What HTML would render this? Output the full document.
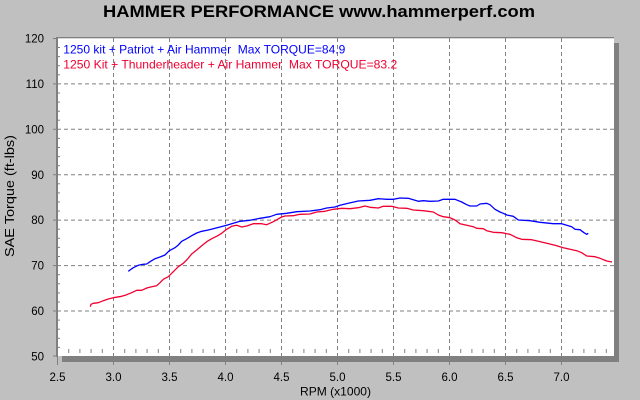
<!DOCTYPE html>
<html><head><meta charset="utf-8"><style>
html,body{margin:0;padding:0;background:#c0c0c0;}
svg{display:block;}
text{font-family:"Liberation Sans",Arial,sans-serif;white-space:pre;}
</style></head><body>
<svg width="640" height="400" viewBox="0 0 640 400" xmlns="http://www.w3.org/2000/svg">
<rect x="0" y="0" width="640" height="400" fill="#c0c0c0"/>
<text x="103" y="17" font-size="17" font-weight="bold" textLength="432" lengthAdjust="spacingAndGlyphs" fill="#000">HAMMER PERFORMANCE www.hammerperf.com</text>
<!-- shadow -->
<rect x="62" y="43" width="557" height="319" fill="#808080"/>
<!-- plot -->
<rect x="57" y="38" width="557" height="318" fill="#fff"/>
<!-- grid -->
<g stroke="#808080" stroke-width="1" stroke-dasharray="4,3" fill="none">
<line x1="57" y1="83.9" x2="614" y2="83.9"/>
<line x1="57" y1="129.3" x2="614" y2="129.3"/>
<line x1="57" y1="174.7" x2="614" y2="174.7"/>
<line x1="57" y1="220.1" x2="614" y2="220.1"/>
<line x1="57" y1="265.6" x2="614" y2="265.6"/>
<line x1="57" y1="311" x2="614" y2="311"/>
<line x1="113.5" y1="38" x2="113.5" y2="356"/>
<line x1="169.5" y1="38" x2="169.5" y2="356"/>
<line x1="225.5" y1="38" x2="225.5" y2="356"/>
<line x1="281.5" y1="38" x2="281.5" y2="356"/>
<line x1="337.5" y1="38" x2="337.5" y2="356"/>
<line x1="393.5" y1="38" x2="393.5" y2="356"/>
<line x1="449.5" y1="38" x2="449.5" y2="356"/>
<line x1="505.5" y1="38" x2="505.5" y2="356"/>
<line x1="561.5" y1="38" x2="561.5" y2="356"/>
</g>
<!-- frame -->
<rect x="56" y="37" width="2" height="320" fill="#808080"/>
<rect x="56" y="37" width="558" height="1.3" fill="#808080"/>
<!-- y ticks -->
<g stroke="#808080" stroke-width="1">
<line x1="53" y1="38.5" x2="57" y2="38.5"/><line x1="53" y1="83.9" x2="57" y2="83.9"/><line x1="53" y1="129.3" x2="57" y2="129.3"/><line x1="53" y1="174.7" x2="57" y2="174.7"/><line x1="53" y1="220.1" x2="57" y2="220.1"/><line x1="53" y1="265.6" x2="57" y2="265.6"/><line x1="53" y1="311" x2="57" y2="311"/><line x1="53" y1="356" x2="57" y2="356"/>
<line x1="57" y1="47.5" x2="60" y2="47.5"/><line x1="57" y1="56.6" x2="60" y2="56.6"/><line x1="57" y1="65.7" x2="60" y2="65.7"/><line x1="57" y1="74.8" x2="60" y2="74.8"/>
<line x1="57" y1="93" x2="60" y2="93"/><line x1="57" y1="102.1" x2="60" y2="102.1"/><line x1="57" y1="111.2" x2="60" y2="111.2"/><line x1="57" y1="120.2" x2="60" y2="120.2"/>
<line x1="57" y1="138.4" x2="60" y2="138.4"/><line x1="57" y1="147.5" x2="60" y2="147.5"/><line x1="57" y1="156.6" x2="60" y2="156.6"/><line x1="57" y1="165.7" x2="60" y2="165.7"/>
<line x1="57" y1="183.8" x2="60" y2="183.8"/><line x1="57" y1="192.9" x2="60" y2="192.9"/><line x1="57" y1="202" x2="60" y2="202"/><line x1="57" y1="211.1" x2="60" y2="211.1"/>
<line x1="57" y1="229.2" x2="60" y2="229.2"/><line x1="57" y1="238.3" x2="60" y2="238.3"/><line x1="57" y1="247.4" x2="60" y2="247.4"/><line x1="57" y1="256.5" x2="60" y2="256.5"/>
<line x1="57" y1="274.7" x2="60" y2="274.7"/><line x1="57" y1="283.8" x2="60" y2="283.8"/><line x1="57" y1="292.9" x2="60" y2="292.9"/><line x1="57" y1="302" x2="60" y2="302"/>
<line x1="57" y1="320.1" x2="60" y2="320.1"/><line x1="57" y1="329.2" x2="60" y2="329.2"/><line x1="57" y1="338.3" x2="60" y2="338.3"/><line x1="57" y1="347.4" x2="60" y2="347.4"/>
</g>
<!-- x ticks -->
<g stroke="#808080" stroke-width="1">
<line x1="57.5" y1="356" x2="57.5" y2="365"/><line x1="113.5" y1="356" x2="113.5" y2="365"/><line x1="169.5" y1="356" x2="169.5" y2="365"/><line x1="225.5" y1="356" x2="225.5" y2="365"/><line x1="281.5" y1="356" x2="281.5" y2="365"/><line x1="337.5" y1="356" x2="337.5" y2="365"/><line x1="393.5" y1="356" x2="393.5" y2="365"/><line x1="449.5" y1="356" x2="449.5" y2="365"/><line x1="505.5" y1="356" x2="505.5" y2="365"/><line x1="561.5" y1="356" x2="561.5" y2="365"/>
</g>
<g stroke="#808080" stroke-width="1" id="mt">
<line x1="68.7" y1="349" x2="68.7" y2="353"/><line x1="79.9" y1="349" x2="79.9" y2="353"/><line x1="91.1" y1="349" x2="91.1" y2="353"/><line x1="102.3" y1="349" x2="102.3" y2="353"/>
<line x1="124.7" y1="349" x2="124.7" y2="353"/><line x1="135.9" y1="349" x2="135.9" y2="353"/><line x1="147.1" y1="349" x2="147.1" y2="353"/><line x1="158.3" y1="349" x2="158.3" y2="353"/>
<line x1="180.7" y1="349" x2="180.7" y2="353"/><line x1="191.9" y1="349" x2="191.9" y2="353"/><line x1="203.1" y1="349" x2="203.1" y2="353"/><line x1="214.3" y1="349" x2="214.3" y2="353"/>
<line x1="236.7" y1="349" x2="236.7" y2="353"/><line x1="247.9" y1="349" x2="247.9" y2="353"/><line x1="259.1" y1="349" x2="259.1" y2="353"/><line x1="270.3" y1="349" x2="270.3" y2="353"/>
<line x1="292.7" y1="349" x2="292.7" y2="353"/><line x1="303.9" y1="349" x2="303.9" y2="353"/><line x1="315.1" y1="349" x2="315.1" y2="353"/><line x1="326.3" y1="349" x2="326.3" y2="353"/>
<line x1="348.7" y1="349" x2="348.7" y2="353"/><line x1="359.9" y1="349" x2="359.9" y2="353"/><line x1="371.1" y1="349" x2="371.1" y2="353"/><line x1="382.3" y1="349" x2="382.3" y2="353"/>
<line x1="404.7" y1="349" x2="404.7" y2="353"/><line x1="415.9" y1="349" x2="415.9" y2="353"/><line x1="427.1" y1="349" x2="427.1" y2="353"/><line x1="438.3" y1="349" x2="438.3" y2="353"/>
<line x1="460.7" y1="349" x2="460.7" y2="353"/><line x1="471.9" y1="349" x2="471.9" y2="353"/><line x1="483.1" y1="349" x2="483.1" y2="353"/><line x1="494.3" y1="349" x2="494.3" y2="353"/>
<line x1="516.7" y1="349" x2="516.7" y2="353"/><line x1="527.9" y1="349" x2="527.9" y2="353"/><line x1="539.1" y1="349" x2="539.1" y2="353"/><line x1="550.3" y1="349" x2="550.3" y2="353"/>
<line x1="572.7" y1="349" x2="572.7" y2="353"/><line x1="583.9" y1="349" x2="583.9" y2="353"/><line x1="595.1" y1="349" x2="595.1" y2="353"/><line x1="606.3" y1="349" x2="606.3" y2="353"/>
</g>
<!-- y labels -->
<g font-size="11.5" fill="#000" text-anchor="end">
<text x="44" y="42.5">120</text>
<text x="44" y="88">110</text>
<text x="44" y="133.4">100</text>
<text x="44" y="178.8">90</text>
<text x="44" y="224.2">80</text>
<text x="44" y="269.7">70</text>
<text x="44" y="315.1">60</text>
<text x="44" y="360.3">50</text>
</g>
<!-- x labels -->
<g font-size="11.5" fill="#000" text-anchor="middle">
<text x="57.5" y="381">2.5</text>
<text x="113.5" y="381">3.0</text>
<text x="169.5" y="381">3.5</text>
<text x="225.5" y="381">4.0</text>
<text x="281.5" y="381">4.5</text>
<text x="337.5" y="381">5.0</text>
<text x="393.5" y="381">5.5</text>
<text x="449.5" y="381">6.0</text>
<text x="505.5" y="381">6.5</text>
<text x="561.5" y="381">7.0</text>
</g>
<text x="300" y="395.5" font-size="12" fill="#000" textLength="71" lengthAdjust="spacingAndGlyphs">RPM (x1000)</text>
<text transform="translate(14,196) rotate(-90)" x="0" y="0" font-size="12.5" fill="#000" text-anchor="middle" textLength="122" lengthAdjust="spacingAndGlyphs">SAE Torque (ft-lbs)</text>
<!-- legend -->
<text x="63.3" y="53.3" font-size="12" fill="#0000ff" textLength="282" lengthAdjust="spacingAndGlyphs">1250 kit + Patriot + Air Hammer  Max TORQUE=84.9</text>
<text x="63.3" y="68.3" font-size="12" fill="#f00030" textLength="334" lengthAdjust="spacingAndGlyphs">1250 Kit + Thunderheader + Air Hammer  Max TORQUE=83.2</text>
<!-- curves -->
<polyline fill="none" stroke="#0000ff" stroke-width="1.3" stroke-linejoin="round" points="128.3,271.3 130,270 133.3,267.7 138.3,265.3 143.3,264.3 146.7,264 150,261.7 155,258.7 160,257 165,255 169.3,250.7 175,247.7 178.3,245 181.7,241.3 186.7,238.7 191.7,235.7 196.7,233 201.7,231.3 208.3,230 213.3,228.7 220,227 226.7,225.3 233.3,223.3 240,221.3 250,220.3 260,218.3 270,216.7 276.7,214.3 286.7,213.3 296.7,211.7 310,211 320,209.7 326.7,208 335,207 340,205.3 348.3,203.3 358.3,201 370,200.3 378.3,198.7 386.7,199.3 393.3,199.3 400,198 408.3,198.3 413.3,199.7 418.3,201.3 423.3,200.7 430,201.3 438.3,201 443.3,199.3 455,199.3 461.7,202 466.7,204.7 470,206 476.7,206 480,204 486.7,203.3 490,204.7 495,209.3 500,212 503.3,213.3 506.7,215 513.3,216.3 518.3,220 530,220.7 540,222.3 553.3,223.7 561.7,223.7 566.7,225.3 571.7,226.7 575,229.3 580,229.7 584,232.7 586.7,234.3 588.3,233.3"/>
<polyline fill="none" stroke="#f00030" stroke-width="1.3" stroke-linejoin="round" points="90.3,306.7 91,304.3 93.3,303.3 98.3,302.7 103.3,300.7 108.3,299 113.3,297.7 121.7,296.3 126.7,294.7 131.7,292.7 136.7,290.3 141.7,290.3 146.7,288 151.7,286.7 156.7,285.7 160,282.7 163.3,279.3 168.3,276.7 173.3,271.7 178.3,266.7 183.3,263.3 186.7,260 191.7,254 196.7,250 201.7,245.7 206.7,241.7 211.7,238.7 216.7,236.3 221.7,233.3 226.7,229.3 231.7,226.3 236.7,225.3 241.7,227 246.7,226 253.3,223.7 261.7,223.7 266.7,224.7 273.3,221.7 281.7,217 285,216 293.3,215.7 300,214.3 310,214 316.7,212 325,211.3 333.3,209.3 341.7,208.3 350,208.7 358.3,207.7 365,206 370,207.3 378.3,208 383.3,206.3 391.7,206.3 398.3,208 406.7,208.3 413.3,210 423.3,210.7 433.3,212 438.3,215 443.3,216.7 450,217.7 455,220 460,223.7 466.7,225.3 473.3,226.7 476.7,228.3 483.3,228.7 486.7,230.7 493.3,232.3 501.7,232.7 510,234.3 516.7,237.7 521.7,239.3 531.7,239.7 538.3,241.3 546.7,243.3 555,245.3 563.3,247.7 570,249.3 576.7,250.7 581.7,252.7 586.7,256 595,256.7 600,258.3 606.7,261 612,262"/>
</svg>
</body></html>
